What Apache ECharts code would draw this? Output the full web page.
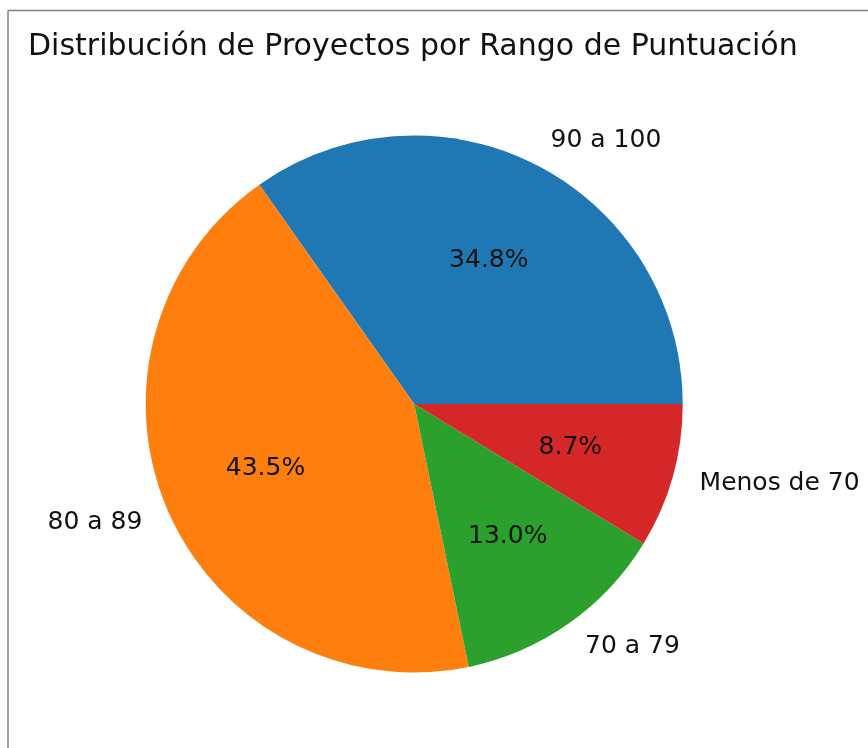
<!DOCTYPE html>
<html>
<head>
<meta charset="utf-8">
<script src="https://cdn.jsdelivr.net/npm/echarts@6/dist/echarts.min.js"></script>
<style>
html,body{margin:0;padding:0;background:#fff;}
#chart{width:868px;height:748px;}
</style>
</head>
<body>
<div id="chart"></div>
<script>
const titleText = 'Distribución de Proyectos por Rango de Puntuación';
const categories = ['90 a 100', '80 a 89', '70 a 79', 'Menos de 70'];
const counts = [8, 10, 3, 2];
const colors = ['#1f77b4', '#ff7f0e', '#2ca02c', '#d62728'];

const total = counts.reduce((a, b) => a + b, 0);
const R = 268.5;
const CENTER = [414.2, 404];
const FONT = 'DejaVu Sans';

const data = categories.map((c, i) => ({ name: c, value: counts[i], itemStyle: { color: colors[i] } }));

const chart = echarts.init(document.getElementById('chart'), null, { renderer: 'canvas' });
chart.setOption({
  backgroundColor: '#fff',
  animation: false,
  title: {
    text: titleText,
    left: 23,
    top: 27,
    textStyle: { fontFamily: FONT, fontSize: 30, fontWeight: 'normal', color: '#111' }
  },
  graphic: [
    { type: 'line', silent: true, shape: { x1: 8, y1: 10.5, x2: 868, y2: 10.5 }, style: { stroke: '#808080', lineWidth: 1.5 } },
    { type: 'line', silent: true, shape: { x1: 8, y1: 10.5, x2: 8, y2: 748 }, style: { stroke: '#808080', lineWidth: 1.5 } }
  ],
  series: [
    {
      type: 'pie',
      center: CENTER,
      radius: [0, R],
      startAngle: 0,
      clockwise: false,
      avoidLabelOverlap: false,
      silent: true,
      itemStyle: { borderWidth: 0 },
      label: {
        show: true,
        position: 'outside',
        distanceToLabelLine: 0,
        fontFamily: FONT,
        fontSize: 25,
        color: '#111',
        padding: [3, 0, 0, 0],
        formatter: '{b}'
      },
      labelLine: { show: false, length: 0.1 * R + 1, length2: 0 },
      data: data
    },
    {
      type: 'pie',
      center: CENTER,
      radius: [0.5 * R - 2, 0.7 * R - 2],
      startAngle: 0,
      clockwise: false,
      avoidLabelOverlap: false,
      silent: true,
      itemStyle: { color: 'rgba(0,0,0,0)', borderWidth: 0 },
      label: {
        show: true,
        position: 'inside',
        fontFamily: FONT,
        fontSize: 25,
        color: '#111',
        padding: [4, 0, 0, 0],
        formatter: p => (p.value / total * 100).toFixed(1) + '%'
      },
      labelLine: { show: false },
      data: categories.map((c, i) => ({ name: c, value: counts[i] }))
    }
  ]
});
</script>
</body>
</html>
